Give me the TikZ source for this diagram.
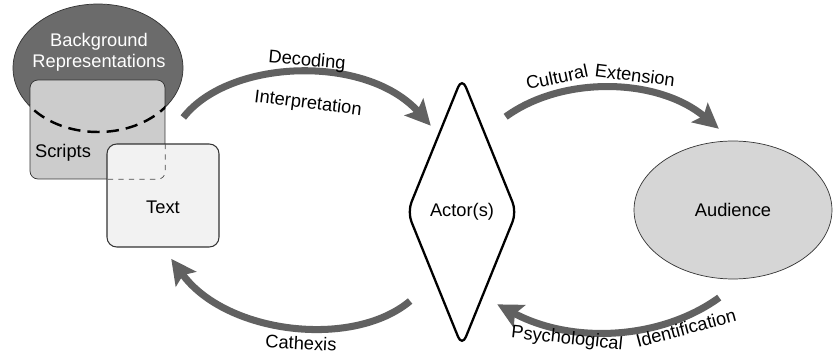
\documentclass[tikz,border=0pt]{standalone}
\usepackage{fontspec}
\setmainfont{Liberation Sans}
\usetikzlibrary{shapes.geometric,arrows.meta}

\begin{document}
\begin{tikzpicture}[x=0.02cm,y=-0.02cm,font=\fontsize{10.4}{12}\selectfont,
  box/.style={rectangle,draw=black!80,inner sep=0pt},
  flow/.style={draw=black!62,line width=4pt,-{Stealth[length=0.5cm,width=0.5cm,inset=0.1cm]}},
  lbl/.style={inner sep=0.5pt}]
  \useasboundingbox (0,0) rectangle (833,358);

  \node [ellipse,draw=black!80,fill=black!58,minimum width=3.4cm,minimum height=2.56cm] (bg_rep) at (98,68) {};
  \node [box,fill=black!20,rounded corners=4.5pt,minimum width=2.7cm,minimum height=1.98cm] (scripts_box) at (97.5,129.5) {};
  \begin{scope}
    \clip (scripts_box.south west) rectangle (scripts_box.north east);
    \draw [line width=1.4pt,dash pattern=on 7pt off 4pt] (bg_rep.center) ellipse [x radius=85,y radius=64];
  \end{scope}
  \node [text=white,align=center] (bg_lbl) at (99,52) {Background\\Representations};
  \node (scripts_lbl) at (63,153) {Scripts};

  \node [box,fill=black!5,rounded corners=5.5pt,line width=0.6pt,minimum width=2.24cm,minimum height=2.06cm] (text_box) at (163,195.5) {};
  \begin{scope}
    \clip (text_box.south west) rectangle (text_box.north east);
    \draw [dashed,black!70,rounded corners=4.5pt] (scripts_box.south west) rectangle (scripts_box.north east);
  \end{scope}
  \node (text_lbl) at (163,207) {Text};

  \node [diamond,draw,line width=1.3pt,rounded corners=6pt,inner sep=0pt,minimum width=2.2cm,minimum height=5.4cm] (actor) at (462,212) {Actor(s)};
  \node [ellipse,draw=black!80,fill=black!16,minimum width=3.96cm,minimum height=2.76cm] (audience) at (733,210) {Audience};

  \draw [flow,shorten <=0.66cm,shorten >=0.22cm] (text_box.north) to[bend left=50] (actor.107);
  \draw [flow,shorten <=0.51cm,shorten >=0.37cm] (actor.74) to[bend left=38] (audience.north);
  \draw [flow,shorten <=0.63cm,shorten >=0.28cm] (actor.248) to[bend left=47] (text_box.south);
  \draw [flow,shorten <=0.64cm,shorten >=0.32cm] (audience.280) to[bend left=32] (actor.284);

  \node [lbl,rotate=-5] (dec_lbl) at (307,61) {Decoding};
  \node [lbl,rotate=-7] (int_lbl) at (308,104) {Interpretation};
  \node [lbl,rotate=12] (cult_lbl) at (557,77) {Cultural};
  \node [lbl,rotate=-7] (ext_lbl) at (635,75) {Extension};
  \node [lbl,rotate=-3] (cath_lbl) at (301,343) {Cathexis};
  \node [lbl,rotate=-6] (psy_lbl) at (567,339) {Psychological};
  \node [lbl,rotate=15] (ident_lbl) at (686,328) {Identification};
\end{tikzpicture}
\end{document}
